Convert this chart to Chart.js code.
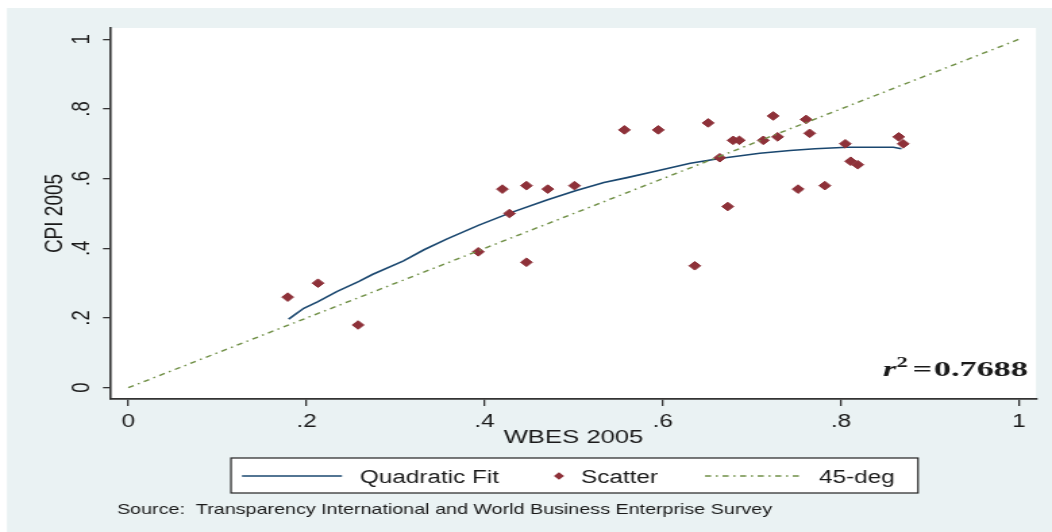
<!DOCTYPE html>
<html>
<head>
<meta charset="utf-8">
<title>CPI 2005 vs WBES 2005</title>
<script src="https://cdn.jsdelivr.net/npm/chart.js@4/dist/chart.umd.min.js"></script>
<style>
  html, body { margin: 0; padding: 0; background: #fff; overflow: hidden; }
  canvas { display: block; }
</style>
</head>
<body>
<canvas id="chart" width="779" height="532" style="width:1052px;height:532px"></canvas>
<script>
// Country scores: WBES 2005 (x) against CPI 2005 (y)
const wbes = [0.179, 0.213, 0.258, 0.393, 0.420, 0.428, 0.447, 0.447, 0.471, 0.501,
              0.557, 0.595, 0.636, 0.651, 0.664, 0.673, 0.679, 0.686, 0.713, 0.724,
              0.729, 0.752, 0.761, 0.765, 0.782, 0.805, 0.811, 0.819, 0.865, 0.870];
const cpi  = [0.26, 0.30, 0.18, 0.39, 0.57, 0.50, 0.58, 0.36, 0.57, 0.58,
              0.74, 0.74, 0.35, 0.76, 0.66, 0.52, 0.71, 0.71, 0.71, 0.78,
              0.72, 0.57, 0.77, 0.73, 0.58, 0.70, 0.65, 0.64, 0.72, 0.70];

// Fitted quadratic curve
const fitX = [0.180, 0.197, 0.213, 0.234, 0.259, 0.274, 0.309, 0.332, 0.358, 0.393,
              0.428, 0.470, 0.502, 0.534, 0.560, 0.593, 0.631, 0.664, 0.709, 0.743,
              0.771, 0.807, 0.859, 0.868];
const fitY = [0.197, 0.228, 0.247, 0.276, 0.305, 0.325, 0.364, 0.396, 0.427, 0.466,
              0.501, 0.539, 0.565, 0.589, 0.603, 0.622, 0.644, 0.658, 0.673, 0.681,
              0.686, 0.690, 0.690, 0.686];

// 45-degree reference line
const refX = [0, 1];
const refY = [0, 1];

const tickValues  = [0, 0.2, 0.4, 0.6, 0.8, 1];
const xTickLabels = ['0', '.2', '.4', '.6', '.8', '1'];
const yTickLabels = ['0', '.2', '.4', '.6', '.8', '1'];
const rSquared = '0.7688';

// The canvas is laid out 779 px wide and shown 1052 px wide.
const SX = 1052 / 779;
const hx = v => v / SX;

const NAVY = '#1a476f';
const MAROON = '#8e3139';
const GREEN = '#6f8f45';
const PANEL = '#eaf2f3';
const INK = '#1a1a1a';
const AXIS = '#333333';
const SANS = "'Liberation Sans', Arial, sans-serif";
const SERIF = "'Liberation Serif', 'Times New Roman', serif";
const refDash = [4.5, 3.5, 1.5, 3.5];

const pts = (xs, ys) => xs.map((x, i) => ({ x, y: ys[i] }));
const fixedTicks = scale => { scale.ticks = tickValues.map(v => ({ value: v })); };

function diamond(ctx, x, y, r) {
  ctx.beginPath();
  ctx.moveTo(x - r, y);
  ctx.lineTo(x, y - r);
  ctx.lineTo(x + r, y);
  ctx.lineTo(x, y + r);
  ctx.closePath();
}

const frame = {
  id: 'frame',
  beforeDraw(chart) {
    const { ctx, width, height, chartArea: a } = chart;
    ctx.save();
    ctx.fillStyle = '#fff';
    ctx.fillRect(0, 0, width, height);
    ctx.fillStyle = PANEL;
    ctx.fillRect(hx(7), 8, width - hx(7), height - 8);
    ctx.fillStyle = '#fff';
    ctx.fillRect(a.left, a.top, a.right - a.left, a.bottom - a.top);
    ctx.restore();
  },
  afterDraw(chart) {
    const { ctx, chartArea: a, scales: { y } } = chart;
    const ds = chart.data.datasets;
    ctx.save();
    ctx.fillStyle = INK;

    // y tick labels, turned to read upwards
    ctx.font = `18.5px ${SANS}`;
    ctx.textAlign = 'center';
    ctx.textBaseline = 'alphabetic';
    tickValues.forEach((v, i) => {
      ctx.save();
      ctx.translate(hx(89), y.getPixelForValue(v));
      ctx.rotate(-Math.PI / 2);
      ctx.fillText(yTickLabels[i], 0, 0);
      ctx.restore();
    });

    // axis titles
    ctx.font = `19px ${SANS}`;
    ctx.save();
    ctx.translate(hx(62), (a.top + a.bottom) / 2);
    ctx.rotate(-Math.PI / 2);
    ctx.fillText('CPI 2005', 0, 0);
    ctx.restore();
    ctx.fillText('WBES 2005', (a.left + a.right) / 2, 443);

    // r-squared note, set in a wide bold serif
    const parts = [
      { t: 'r', f: `italic bold 21px ${SERIF}`, dy: 0, gap: 0 },
      { t: '2', f: `bold 14px ${SERIF}`, dy: -9, gap: 3 },
      { t: '=', f: `bold 21px ${SERIF}`, dy: 0, gap: 1 },
      { t: rSquared, f: `bold 21px ${SERIF}`, dy: 0, gap: 0 }
    ];
    let total = 0;
    parts.forEach(p => { ctx.font = p.f; p.w = ctx.measureText(p.t).width; total += p.w + p.gap; });
    const noteW = hx(1028) - hx(883);
    const k = noteW / total;
    ctx.save();
    ctx.translate(hx(883), 376);
    ctx.scale(k, 1);
    let px = 0;
    ctx.textAlign = 'left';
    parts.forEach(p => { ctx.font = p.f; ctx.fillText(p.t, px, p.dy); px += p.w + p.gap; });
    ctx.restore();

    // legend
    const top = 458, bot = 493, mid = 476, base = 482.5;
    const lx0 = hx(231), lx1 = hx(918);
    ctx.fillStyle = '#fff';
    ctx.fillRect(lx0, top, lx1 - lx0, bot - top);
    ctx.strokeStyle = '#222';
    ctx.lineWidth = 1.2;
    ctx.strokeRect(lx0, top, lx1 - lx0, bot - top);

    const fit = ds[2], sc = ds[1], ref = ds[0];
    ctx.strokeStyle = fit.borderColor;
    ctx.lineWidth = fit.borderWidth;
    ctx.beginPath(); ctx.moveTo(hx(242), mid); ctx.lineTo(hx(342), mid); ctx.stroke();

    ctx.fillStyle = sc.backgroundColor;
    diamond(ctx, hx(559), mid, 3.8);
    ctx.fill();

    ctx.strokeStyle = ref.borderColor;
    ctx.lineWidth = ref.borderWidth;
    ctx.setLineDash(refDash);
    ctx.beginPath(); ctx.moveTo(hx(705), mid); ctx.lineTo(hx(801), mid); ctx.stroke();
    ctx.setLineDash([]);

    ctx.fillStyle = INK;
    ctx.font = `18px ${SANS}`;
    ctx.textAlign = 'left';
    ctx.fillText(fit.label, hx(360), base);
    ctx.fillText(sc.label, hx(581), base);
    ctx.fillText(ref.label, hx(819), base);

    // source note
    ctx.font = `14.6px ${SANS}`;
    ctx.fillText('Source:  Transparency International and World Business Enterprise Survey', hx(117), 514);
    ctx.restore();
  }
};

new Chart(document.getElementById('chart'), {
  type: 'scatter',
  data: {
    datasets: [
      {
        type: 'line', label: '45-deg', data: pts(refX, refY),
        borderColor: GREEN, borderWidth: 1.4, borderDash: refDash,
        pointRadius: 0, fill: false, order: 0
      },
      {
        type: 'scatter', label: 'Scatter', data: pts(wbes, cpi),
        pointStyle: 'rectRot', pointRadius: 4.3, borderWidth: 1,
        backgroundColor: MAROON, borderColor: MAROON, order: 1
      },
      {
        type: 'line', label: 'Quadratic Fit', data: pts(fitX, fitY),
        borderColor: NAVY, borderWidth: 1.6, tension: 0,
        pointRadius: 0, fill: false, order: 2
      }
    ]
  },
  options: {
    responsive: false,
    animation: false,
    devicePixelRatio: 1,
    events: [],
    layout: { padding: { top: 28, right: 779 - hx(1036), left: 0, bottom: 0 } },
    plugins: { legend: { display: false }, tooltip: { enabled: false } },
    scales: {
      x: {
        type: 'linear', min: -0.0194, max: 1.0191,
        afterBuildTicks: fixedTicks,
        afterFit: s => { s.height = 532 - 399; },
        grid: { display: true, drawOnChartArea: false, drawTicks: true, tickLength: 7, color: AXIS, lineWidth: 1.3 },
        border: { display: true, color: AXIS, width: 1.8 },
        ticks: {
          autoSkip: false, maxRotation: 0, minRotation: 0, padding: 5, color: INK,
          font: { family: SANS, size: 18 },
          callback: (v, i) => xTickLabels[i]
        }
      },
      y: {
        type: 'linear', min: -0.0324, max: 1.0324,
        afterBuildTicks: fixedTicks,
        afterFit: s => { s.width = hx(111); },
        grid: { display: true, drawOnChartArea: false, drawTicks: true, tickLength: hx(8), color: AXIS, lineWidth: 1.3 },
        border: { display: true, color: AXIS, width: 1.6 },
        ticks: { display: false }
      }
    }
  },
  plugins: [frame]
});
</script>
</body>
</html>
